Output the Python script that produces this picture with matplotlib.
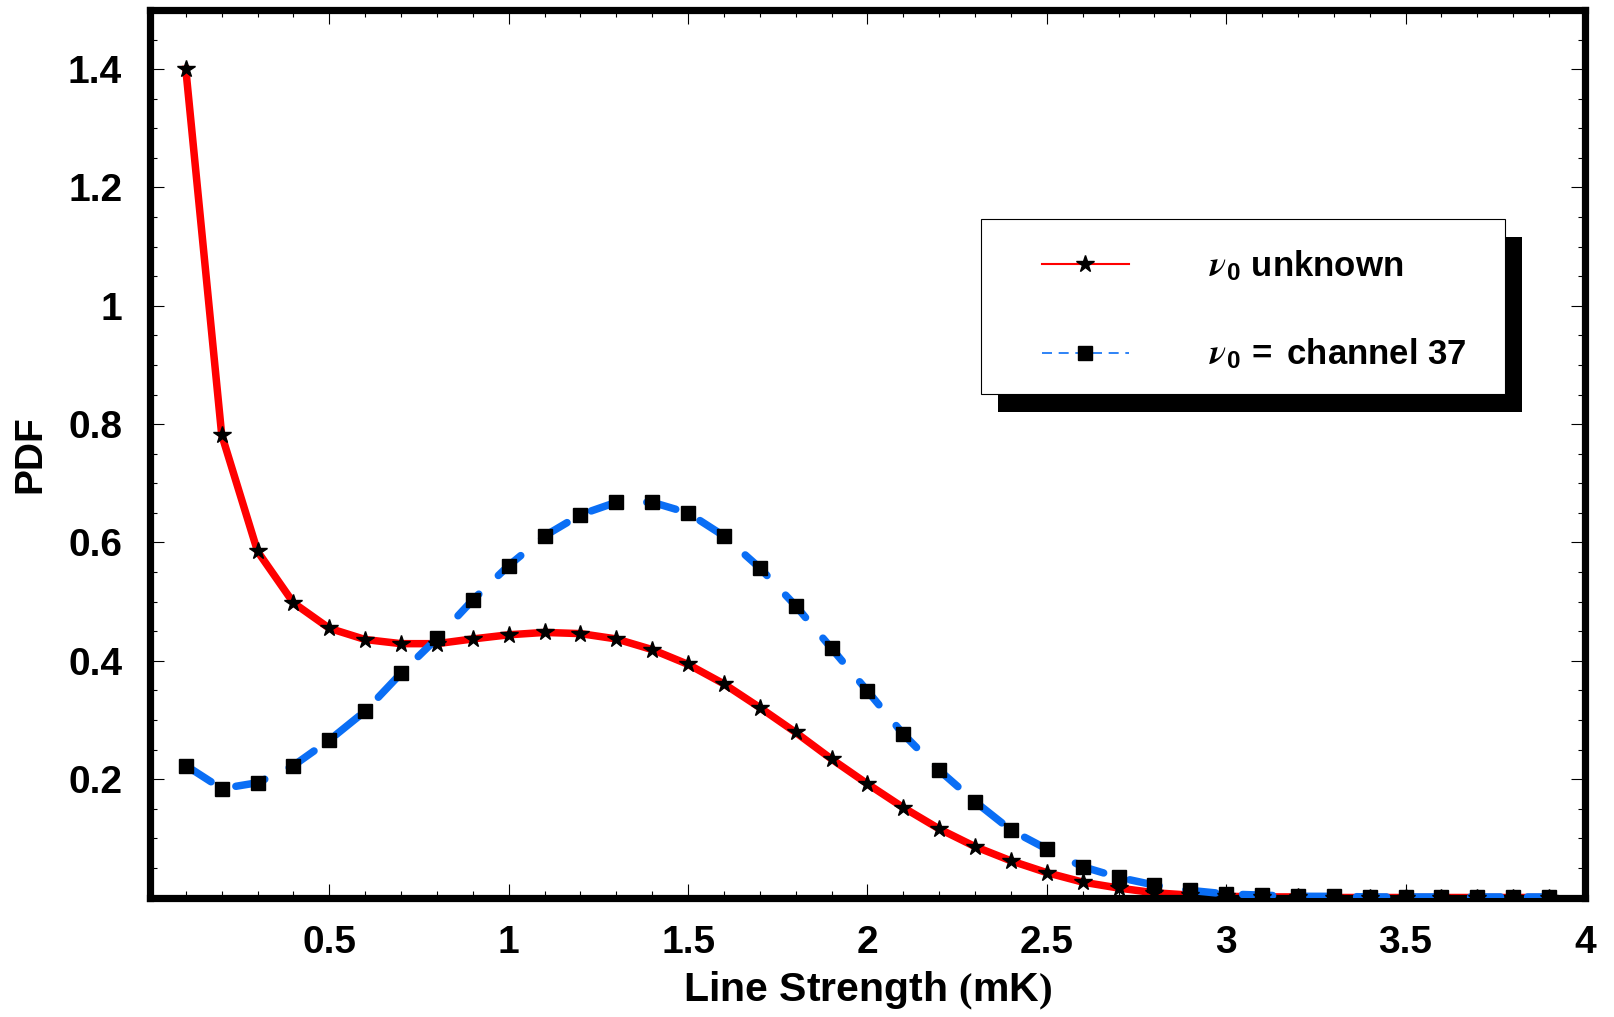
import numpy as np
import matplotlib
matplotlib.use("Agg")
import matplotlib.pyplot as plt
from matplotlib.lines import Line2D
from matplotlib.patches import Rectangle
from matplotlib.ticker import MultipleLocator

plt.rcParams["font.family"] = ["Liberation Sans", "DejaVu Sans"]
plt.rcParams["font.weight"] = "bold"
plt.rcParams["mathtext.fontset"] = "custom"
plt.rcParams["mathtext.rm"] = "Liberation Sans:bold"
plt.rcParams["mathtext.bf"] = "Liberation Sans:bold"
plt.rcParams["mathtext.it"] = "STIXGeneral:italic"
plt.rcParams["mathtext.sf"] = "Liberation Serif"

# line strength grid (mK)
strength = [0.1, 0.2, 0.3, 0.4, 0.5, 0.6, 0.7, 0.8, 0.9, 1.0,
            1.1, 1.2, 1.3, 1.4, 1.5, 1.6, 1.7, 1.8, 1.9, 2.0,
            2.1, 2.2, 2.3, 2.4, 2.5, 2.6, 2.7, 2.8, 2.9, 3.0,
            3.1, 3.2, 3.3, 3.4, 3.5, 3.6, 3.7, 3.8, 3.9]

# posterior PDF, line centre unknown
pdf_unknown = [1.400, 0.782, 0.585, 0.498, 0.455, 0.436, 0.429, 0.429, 0.437, 0.444,
               0.448, 0.446, 0.437, 0.419, 0.394, 0.361, 0.321, 0.279, 0.234, 0.192,
               0.152, 0.116, 0.086, 0.062, 0.042, 0.026, 0.016, 0.008, 0.004, 0.002,
               0.001, 0.001, 0.0, 0.0, 0.0, 0.0, 0.0, 0.0, 0.0]

# posterior PDF, line centre fixed at channel 37
pdf_ch37 = [0.223, 0.184, 0.194, 0.223, 0.266, 0.315, 0.379, 0.438, 0.503, 0.561,
            0.611, 0.647, 0.668, 0.668, 0.650, 0.611, 0.557, 0.493, 0.421, 0.349,
            0.276, 0.215, 0.162, 0.114, 0.082, 0.052, 0.034, 0.021, 0.012, 0.006,
            0.004, 0.002, 0.002, 0.001, 0.001, 0.001, 0.001, 0.001, 0.001]

label_unknown = r"$\nu_0$ unknown"
label_ch37 = r"$\nu_0\,=$ channel 37"

x_ticks = [0.5, 1.0, 1.5, 2.0, 2.5, 3.0, 3.5, 4.0]
x_tick_labels = ["0.5", "1", "1.5", "2", "2.5", "3", "3.5", "4"]
y_ticks = [0.2, 0.4, 0.6, 0.8, 1.0, 1.2, 1.4]
y_tick_labels = ["0.2", "0.4", "0.6", "0.8", "1", "1.2", "1.4"]

RED = "#ff0000"
BLUE = "#0a6ef5"

fig = plt.figure(figsize=(16.14, 10.17), dpi=100)
ax = fig.add_axes([0.0929, 0.1175, 0.8891, 0.8727])

ax.plot(strength, pdf_unknown, color=RED, lw=5.4, solid_joinstyle="round",
        zorder=2)
ax.plot(strength, pdf_ch37, color=BLUE, lw=5.4, dashes=(4.0, 3.6),
        dash_capstyle="round", dash_joinstyle="round", zorder=3)
ax.plot(strength, pdf_unknown, ls="none", marker="*", ms=13,
        mfc="black", mec="black", zorder=4)
ax.plot(strength, pdf_ch37, ls="none", marker="s", ms=9.5,
        mfc="black", mec="black", zorder=4)

ax.set_xlim(0, 4)
ax.set_ylim(0, 1.5)
ax.set_xticks(x_ticks)
ax.set_xticklabels(x_tick_labels)
ax.set_yticks(y_ticks)
ax.set_yticklabels(y_tick_labels)
ax.xaxis.set_minor_locator(MultipleLocator(0.1))
ax.yaxis.set_minor_locator(MultipleLocator(0.05))
ax.tick_params(which="both", direction="in", top=True, right=True,
               width=0.8, labelsize=28, pad=20)
ax.tick_params(which="major", length=10)
ax.tick_params(which="minor", length=5)
for lab in ax.get_xticklabels() + ax.get_yticklabels():
    lab.set_fontweight("bold")
for sp in ax.spines.values():
    sp.set_linewidth(5.2)

ax.set_xlabel(r"Line Strength $\mathsf{(}$mK$\mathsf{)}$", fontsize=29.5,
              fontweight="bold", labelpad=6)
ax.set_ylabel("PDF", fontsize=28, fontweight="bold", labelpad=14)

# legend frame with a solid drop shadow
ax.add_patch(Rectangle((0.591, 0.547), 0.365, 0.197, transform=ax.transAxes,
                       facecolor="black", edgecolor="none", zorder=5))
ax.add_patch(Rectangle((0.579, 0.567), 0.365, 0.1975, transform=ax.transAxes,
                       facecolor="white", edgecolor="black", lw=0.8, zorder=6))

handles = [
    Line2D([], [], color=RED, lw=1.5, marker="*", ms=13, mfc="black", mec="black"),
    Line2D([], [], color=BLUE, lw=1.2, dashes=(6, 4), marker="s", ms=9.5,
           mfc="black", mec="black"),
]
leg = ax.legend(handles, [label_unknown, label_ch37], loc="center left",
                bbox_to_anchor=(0.6216, 0.662), frameon=False, fontsize=25,
                handlelength=2.5, handletextpad=2.3, labelspacing=1.55,
                borderpad=0, borderaxespad=0, markerscale=1.0)
leg.set_zorder(7)
for t in leg.get_texts():
    t.set_fontweight("bold")

fig.savefig("out.png", dpi=100)
